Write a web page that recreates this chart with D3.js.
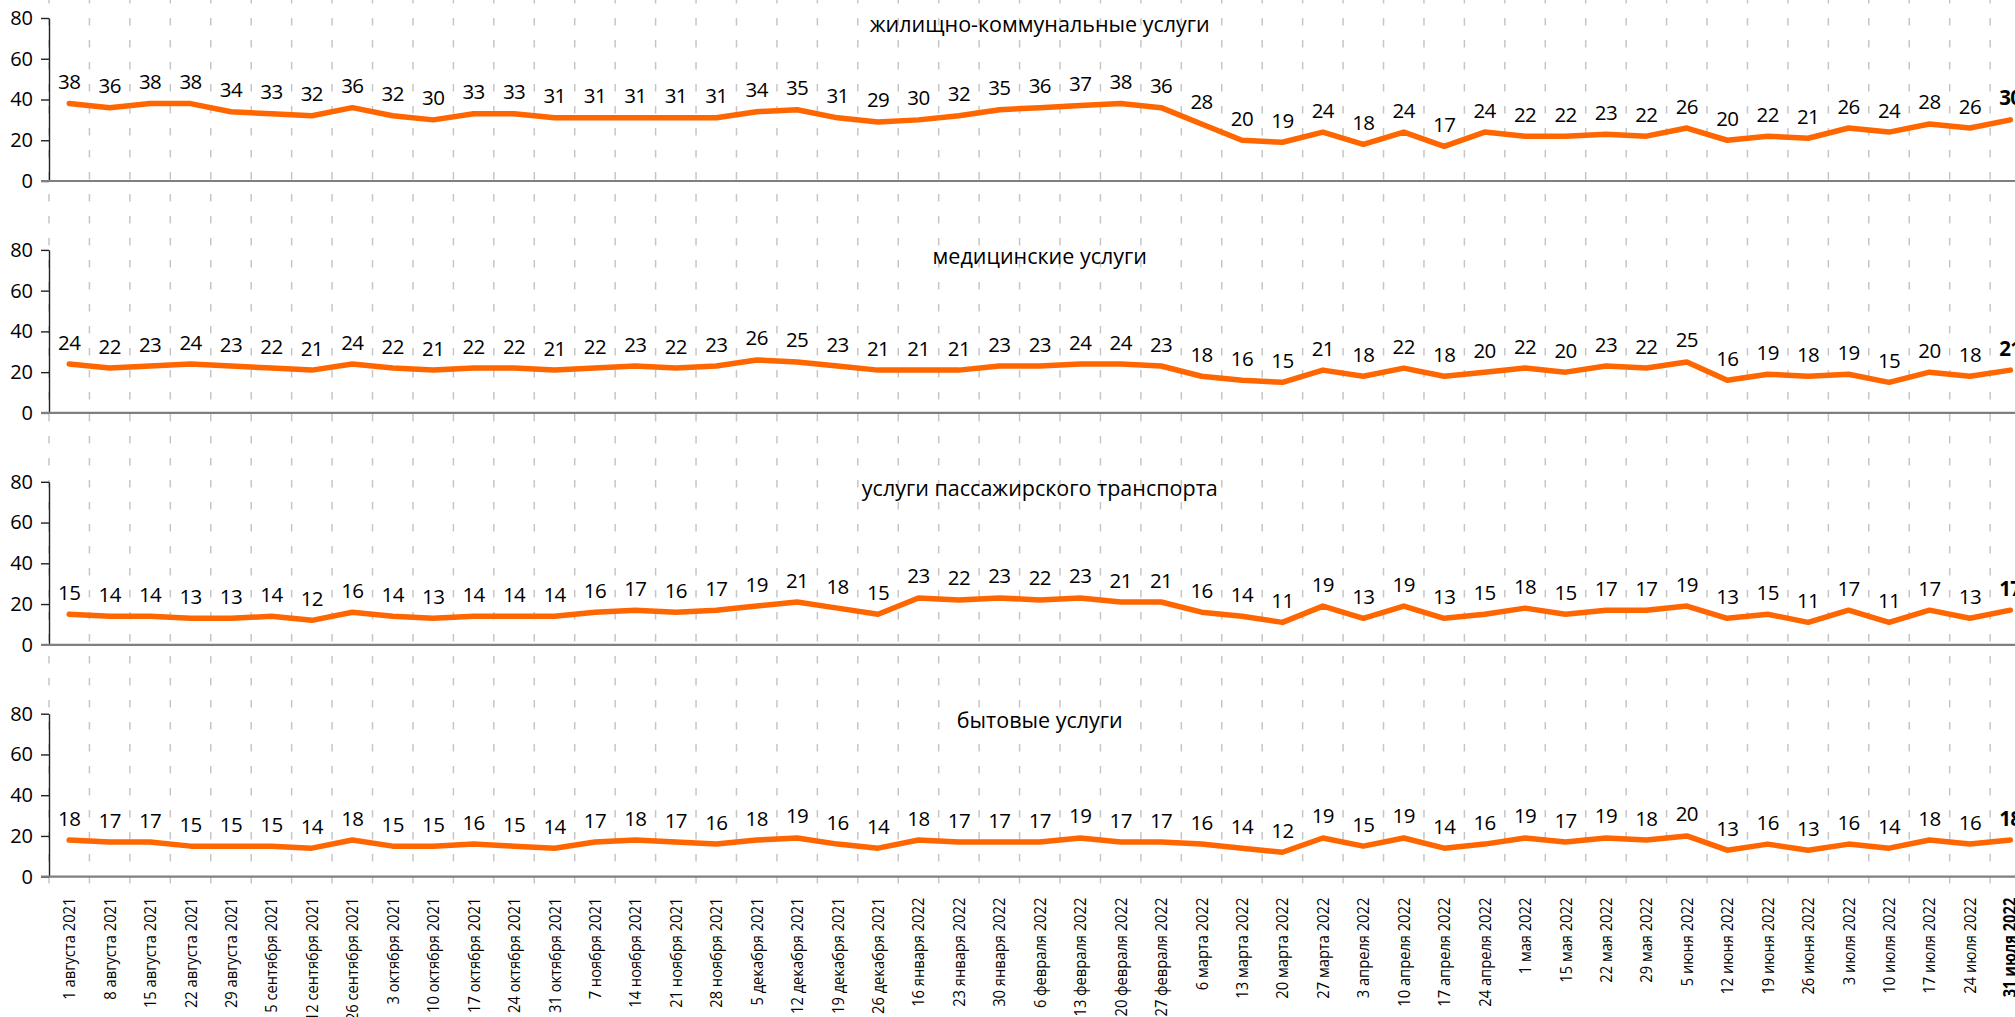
<!DOCTYPE html>
<html>
<head>
<meta charset="utf-8">
<script src="https://cdn.jsdelivr.net/npm/d3@7"></script>
<style>
  body { margin: 0; background: #fff; }
  svg { display: block; }
</style>
</head>
<body>
<div id="chart"></div>
<script>
const dates = [
  "1 августа 2021", "8 августа 2021", "15 августа 2021", "22 августа 2021", "29 августа 2021",
  "5 сентября 2021", "12 сентября 2021", "26 сентября 2021",
  "3 октября 2021", "10 октября 2021", "17 октября 2021", "24 октября 2021", "31 октября 2021",
  "7 ноября 2021", "14 ноября 2021", "21 ноября 2021", "28 ноября 2021",
  "5 декабря 2021", "12 декабря 2021", "19 декабря 2021", "26 декабря 2021",
  "16 января 2022", "23 января 2022", "30 января 2022",
  "6 февраля 2022", "13 февраля 2022", "20 февраля 2022", "27 февраля 2022",
  "6 марта 2022", "13 марта 2022", "20 марта 2022", "27 марта 2022",
  "3 апреля 2022", "10 апреля 2022", "17 апреля 2022", "24 апреля 2022",
  "1 мая 2022", "15 мая 2022", "22 мая 2022", "29 мая 2022",
  "5 июня 2022", "12 июня 2022", "19 июня 2022", "26 июня 2022",
  "3 июля 2022", "10 июля 2022", "17 июля 2022", "24 июля 2022", "31 июля 2022"
];

const titles = ["жилищно-коммунальные услуги", "медицинские услуги", "услуги пассажирского транспорта", "бытовые услуги"];

const housing = [38, 36, 38, 38, 34, 33, 32, 36, 32, 30, 33, 33, 31, 31, 31, 31, 31, 34, 35, 31, 29, 30, 32, 35, 36,
  37, 38, 36, 28, 20, 19, 24, 18, 24, 17, 24, 22, 22, 23, 22, 26, 20, 22, 21, 26, 24, 28, 26, 30];
const medical = [24, 22, 23, 24, 23, 22, 21, 24, 22, 21, 22, 22, 21, 22, 23, 22, 23, 26, 25, 23, 21, 21, 21, 23, 23,
  24, 24, 23, 18, 16, 15, 21, 18, 22, 18, 20, 22, 20, 23, 22, 25, 16, 19, 18, 19, 15, 20, 18, 21];
const transport = [15, 14, 14, 13, 13, 14, 12, 16, 14, 13, 14, 14, 14, 16, 17, 16, 17, 19, 21, 18, 15, 23, 22, 23, 22,
  23, 21, 21, 16, 14, 11, 19, 13, 19, 13, 15, 18, 15, 17, 17, 19, 13, 15, 11, 17, 11, 17, 13, 17];
const household = [18, 17, 17, 15, 15, 15, 14, 18, 15, 15, 16, 15, 14, 17, 18, 17, 16, 18, 19, 16, 14, 18, 17, 17, 17,
  19, 17, 17, 16, 14, 12, 19, 15, 19, 14, 16, 19, 17, 19, 18, 20, 13, 16, 13, 16, 14, 18, 16, 18];

const yTicks = [0, 20, 40, 60, 80];

const series = [housing, medical, transport, household];

const width = 2015, height = 1017;
const left = 49, step = 40.44;
const top0 = 18, panelH = 163, panelGap = 231.9;
const orange = "#ff6600";
const numFont = "'Open Sans', sans-serif";

const svg = d3.select("#chart").append("svg")
  .attr("width", width)
  .attr("height", height)
  .attr("viewBox", `0 0 ${width} ${height}`);

const x = d3.scaleBand()
  .domain(dates)
  .range([left, left + step * dates.length])
  .padding(0);

const lastBase = top0 + panelGap * 3 + panelH;

// dashed vertical gridlines on the category boundaries
const grid = svg.append("g");
dates.forEach(d => {
  grid.append("line")
    .attr("x1", x(d)).attr("x2", x(d))
    .attr("y1", -4).attr("y2", lastBase + 11)
    .attr("stroke", "#c6c6c6")
    .attr("stroke-width", 1.5)
    .attr("stroke-dasharray", "7.5,14.5");
});

series.forEach((values, p) => {
  const top = top0 + panelGap * p;
  const y = d3.scaleLinear().domain([0, 80]).range([top + panelH, top]);
  const g = svg.append("g");

  // y axis
  const yAxis = g.append("g")
    .attr("transform", `translate(${left},0)`)
    .call(d3.axisLeft(y).tickValues(yTicks).tickSize(8).tickPadding(8).tickSizeOuter(0));
  yAxis.select(".domain").attr("stroke", "#222").attr("stroke-width", 1.4);
  yAxis.selectAll(".tick line").attr("stroke", "#222").attr("stroke-width", 1.4);
  yAxis.selectAll(".tick text")
    .style("font-family", numFont)
    .style("font-size", "20px")
    .attr("fill", "#000");

  // x baseline
  const xAxis = g.append("g")
    .attr("transform", `translate(0,${y(0)})`)
    .call(d3.axisBottom(x).tickSize(0).tickFormat(""));
  xAxis.select(".domain")
    .attr("d", `M${left - 8},0H${width}`)
    .attr("stroke", "#7f7f7f")
    .attr("stroke-width", 2.2);

  // title
  g.append("text")
    .attr("x", (x.range()[0] + x.range()[1]) / 2)
    .attr("y", top + 14)
    .attr("text-anchor", "middle")
    .style("font-family", numFont)
    .style("font-size", "21.5px")
    .attr("fill", "#000")
    .text(titles[p]);

  const line = d3.line()
    .x((v, i) => x(dates[i]) + x.bandwidth() / 2)
    .y(v => y(v));

  g.append("path")
    .datum(values)
    .attr("d", line)
    .attr("fill", "none")
    .attr("stroke", orange)
    .attr("stroke-width", 5.5)
    .attr("stroke-linejoin", "round")
    .attr("stroke-linecap", "round");

  g.selectAll(".lbl")
    .data(values)
    .join("text")
    .attr("x", (v, i) => x(dates[i]) + x.bandwidth() / 2)
    .attr("y", v => y(v) - 14.5)
    .attr("text-anchor", "middle")
    .style("font-family", numFont)
    .style("font-size", "20.5px")
    .style("letter-spacing", "-0.6px")
    .style("font-weight", (v, i) => i === values.length - 1 ? "bold" : "normal")
    .attr("fill", "#000")
    .text(v => v);

  // category labels under the bottom panel, squeezed to a condensed look
  if (p === series.length - 1) {
    const labels = g.append("g")
      .attr("transform", `translate(0,${y(0)})`)
      .call(d3.axisBottom(x).tickSize(0).tickPadding(0));
    labels.select(".domain").remove();
    const tickText = labels.selectAll(".tick text")
      .attr("x", 0).attr("y", 0).attr("dy", 0)
      .attr("text-anchor", "end")
      .style("font-family", numFont)
      .style("font-size", "17px")
      .style("font-weight", (d, i) => i === dates.length - 1 ? "bold" : "normal")
      .attr("fill", "#000");
    const firstLen = tickText.node().getComputedTextLength();
    const squeeze = Math.min(1, 102 / firstLen);
    tickText.attr("transform", `translate(6,21) rotate(-90) scale(${squeeze},1)`);
  }
});
</script>
</body>
</html>
